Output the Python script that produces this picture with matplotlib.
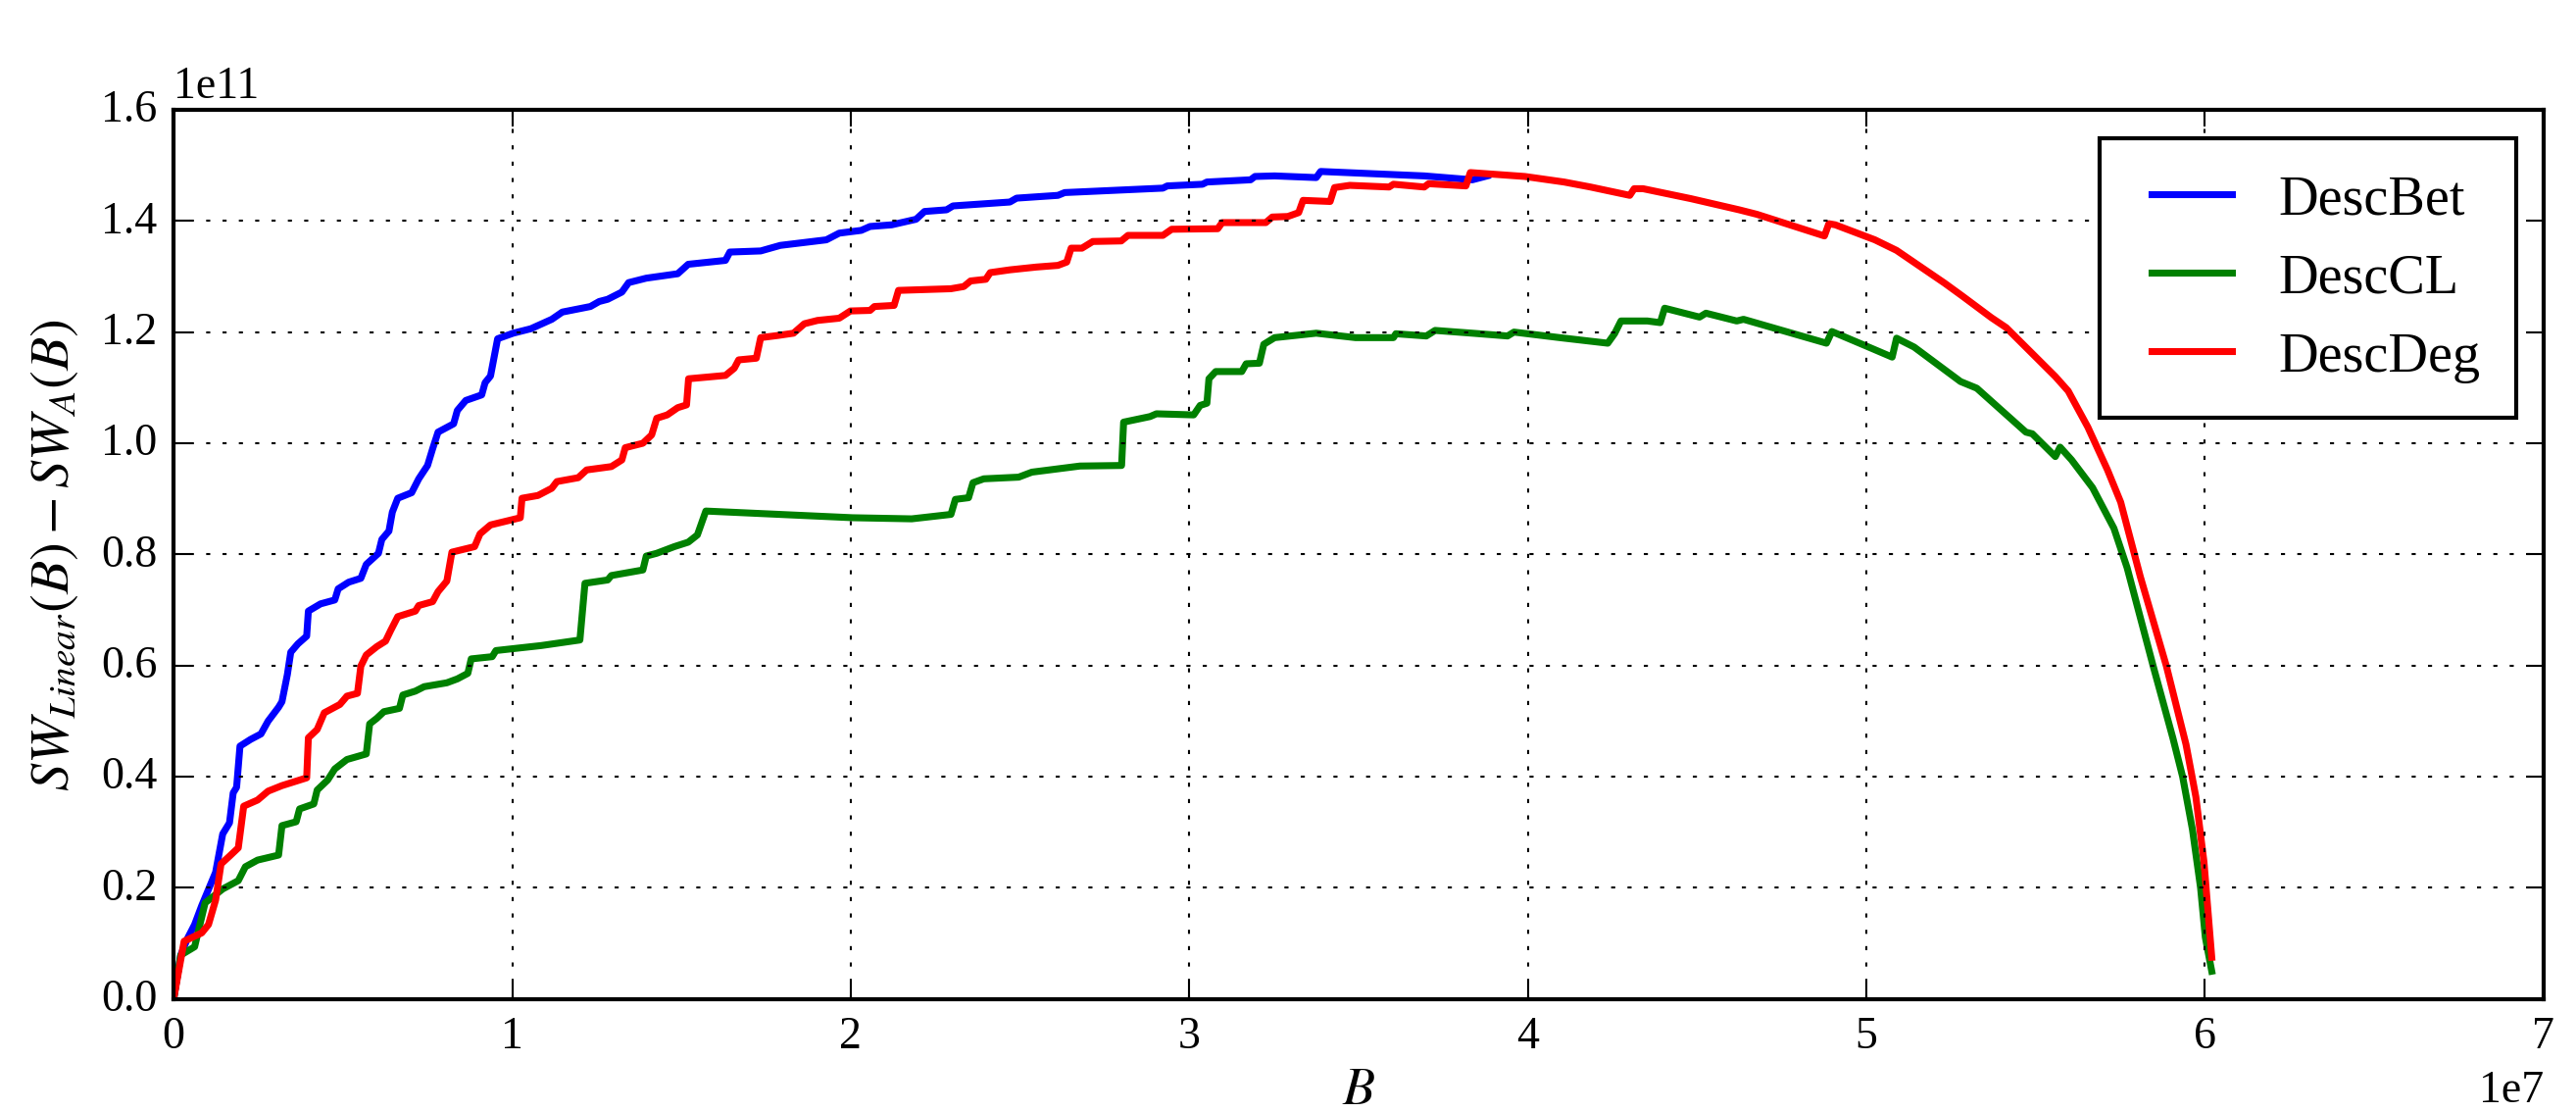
import numpy as np
import matplotlib
matplotlib.use('Agg')
from matplotlib import pyplot as plt

# values: B in units of 1e7, SW difference in units of 1e11
B_UNIT = 1e7
SW_UNIT = 1e11

bet_b = [0, 0.021, 0.041, 0.062, 0.083, 0.124, 0.145, 0.165, 0.176, 0.186, 0.196, 0.227, 0.258,
         0.279, 0.310, 0.320, 0.336, 0.346, 0.367, 0.393, 0.398, 0.434, 0.476, 0.486, 0.517, 0.553,
         0.569, 0.605, 0.615, 0.636, 0.646, 0.662, 0.703, 0.724, 0.750, 0.765, 0.781, 0.827, 0.838,
         0.863, 0.910, 0.920, 0.936, 0.957, 1.003, 1.055, 1.117, 1.148, 1.231, 1.257, 1.282, 1.324,
         1.344, 1.396, 1.489, 1.520, 1.630, 1.643, 1.734, 1.792, 1.928, 1.966, 2.031, 2.057, 2.121,
         2.193, 2.218, 2.283, 2.302, 2.470, 2.490, 2.612, 2.632, 2.922, 2.935, 3.039, 3.052, 3.181,
         3.194, 3.252, 3.375, 3.388, 3.540, 3.694, 3.836, 3.880]
bet_sw = [0, 0.079, 0.109, 0.134, 0.168, 0.228, 0.297, 0.317, 0.371, 0.381, 0.455, 0.467, 0.477,
          0.500, 0.525, 0.535, 0.584, 0.624, 0.639, 0.653, 0.698, 0.711, 0.718, 0.738, 0.750, 0.757,
          0.782, 0.802, 0.827, 0.842, 0.876, 0.901, 0.911, 0.936, 0.960, 0.990, 1.020, 1.035, 1.059,
          1.077, 1.087, 1.109, 1.121, 1.188, 1.198, 1.206, 1.223, 1.236, 1.246, 1.255, 1.259, 1.272,
          1.289, 1.297, 1.305, 1.322, 1.329, 1.344, 1.346, 1.356, 1.366, 1.378, 1.383, 1.390, 1.393,
          1.403, 1.417, 1.420, 1.427, 1.434, 1.441, 1.446, 1.451, 1.459, 1.463, 1.466, 1.470, 1.474,
          1.480, 1.481, 1.478, 1.489, 1.485, 1.481, 1.474, 1.481]

cl_b = [0, 0.021, 0.062, 0.093, 0.145, 0.191, 0.212, 0.248, 0.310, 0.320, 0.362, 0.372, 0.414,
        0.424, 0.455, 0.476, 0.512, 0.569, 0.579, 0.600, 0.621, 0.667, 0.677, 0.714, 0.740, 0.807,
        0.838, 0.869, 0.879, 0.941, 0.952, 1.086, 1.200, 1.215, 1.282, 1.293, 1.386, 1.396, 1.427,
        1.479, 1.520, 1.547, 1.572, 2.005, 2.180, 2.296, 2.309, 2.348, 2.361, 2.393, 2.496, 2.535,
        2.677, 2.800, 2.806, 2.845, 2.884, 2.903, 3.013, 3.032, 3.052, 3.058, 3.078, 3.155, 3.168,
        3.207, 3.220, 3.252, 3.375, 3.491, 3.603, 3.610, 3.700, 3.726, 3.836, 3.940, 3.959, 4.094,
        4.236, 4.256, 4.275, 4.353, 4.391, 4.404, 4.507, 4.526, 4.617, 4.637, 4.882, 4.898, 4.999,
        5.076, 5.089, 5.141, 5.278, 5.326, 5.471, 5.490, 5.558, 5.572, 5.606, 5.668, 5.731, 5.770,
        5.847, 5.905, 5.934, 5.963, 5.987, 6.001, 6.020]
cl_sw = [0, 0.079, 0.094, 0.173, 0.198, 0.213, 0.238, 0.250, 0.259, 0.312, 0.319, 0.342, 0.351,
         0.376, 0.394, 0.414, 0.431, 0.441, 0.495, 0.505, 0.517, 0.523, 0.547, 0.554, 0.562, 0.569,
         0.576, 0.586, 0.612, 0.616, 0.627, 0.636, 0.646, 0.748, 0.754, 0.762, 0.772, 0.797, 0.802,
         0.814, 0.822, 0.835, 0.878, 0.866, 0.864, 0.872, 0.899, 0.902, 0.929, 0.936, 0.939, 0.948,
         0.959, 0.960, 1.038, 1.043, 1.048, 1.053, 1.051, 1.068, 1.072, 1.116, 1.129, 1.129, 1.143,
         1.144, 1.178, 1.190, 1.198, 1.190, 1.190, 1.197, 1.193, 1.203, 1.198, 1.193, 1.200, 1.190,
         1.180, 1.197, 1.220, 1.220, 1.217, 1.243, 1.227, 1.234, 1.220, 1.223, 1.180, 1.201, 1.175,
         1.155, 1.189, 1.173, 1.111, 1.099, 1.020, 1.017, 0.976, 0.993, 0.970, 0.920, 0.847, 0.776,
         0.599, 0.470, 0.400, 0.305, 0.200, 0.111, 0.050]

deg_b = [0, 0.031, 0.083, 0.103, 0.124, 0.140, 0.165, 0.191, 0.207, 0.248, 0.279, 0.320, 0.393,
         0.398, 0.424, 0.445, 0.491, 0.512, 0.543, 0.553, 0.569, 0.600, 0.626, 0.641, 0.662, 0.714,
         0.724, 0.765, 0.781, 0.807, 0.822, 0.889, 0.905, 0.936, 1.024, 1.029, 1.076, 1.117, 1.132,
         1.195, 1.220, 1.293, 1.324, 1.334, 1.386, 1.412, 1.427, 1.458, 1.489, 1.515, 1.521, 1.630,
         1.656, 1.669, 1.721, 1.734, 1.786, 1.831, 1.863, 1.902, 1.966, 1.999, 2.057, 2.070, 2.128,
         2.141, 2.296, 2.334, 2.354, 2.399, 2.412, 2.470, 2.548, 2.612, 2.638, 2.651, 2.683, 2.715,
         2.799, 2.819, 2.922, 2.948, 3.084, 3.097, 3.226, 3.245, 3.291, 3.323, 3.336, 3.416, 3.429,
         3.474, 3.590, 3.603, 3.694, 3.707, 3.817, 3.830, 3.991, 4.107, 4.185, 4.301, 4.314, 4.340,
         4.482, 4.624, 4.676, 4.876, 4.889, 4.908, 5.025, 5.089, 5.231, 5.283, 5.369, 5.413, 5.558,
         5.596, 5.654, 5.712, 5.751, 5.809, 5.886, 5.944, 5.973, 5.997, 6.010, 6.020]
deg_sw = [0, 0.104, 0.119, 0.134, 0.178, 0.243, 0.257, 0.272, 0.347, 0.358, 0.374, 0.384, 0.398,
          0.470, 0.485, 0.515, 0.530, 0.545, 0.550, 0.599, 0.619, 0.634, 0.644, 0.663, 0.688, 0.698,
          0.708, 0.715, 0.733, 0.752, 0.804, 0.814, 0.837, 0.853, 0.866, 0.901, 0.906, 0.919, 0.931,
          0.938, 0.952, 0.958, 0.970, 0.992, 1.000, 1.015, 1.045, 1.051, 1.064, 1.069, 1.116, 1.122,
          1.135, 1.150, 1.153, 1.190, 1.194, 1.198, 1.215, 1.221, 1.225, 1.238, 1.239, 1.246, 1.248,
          1.275, 1.278, 1.282, 1.292, 1.295, 1.307, 1.312, 1.317, 1.320, 1.326, 1.351, 1.351, 1.363,
          1.364, 1.374, 1.374, 1.385, 1.386, 1.397, 1.397, 1.407, 1.408, 1.415, 1.437, 1.435, 1.460,
          1.464, 1.461, 1.466, 1.461, 1.467, 1.463, 1.487, 1.480, 1.470, 1.461, 1.446, 1.458, 1.458,
          1.440, 1.420, 1.412, 1.373, 1.395, 1.393, 1.366, 1.347, 1.288, 1.265, 1.226, 1.208, 1.120,
          1.094, 1.029, 0.952, 0.894, 0.760, 0.599, 0.458, 0.364, 0.247, 0.150, 0.075]

series = [('DescBet', bet_b, bet_sw, 'b'),
          ('DescCL', cl_b, cl_sw, 'g'),
          ('DescDeg', deg_b, deg_sw, 'r')]


def main():
	plt.style.use('classic')
	plt.rcParams['font.family'] = 'serif'
	plt.rcParams['font.serif'] = ['Liberation Serif', 'DejaVu Serif']
	plt.rcParams['mathtext.fontset'] = 'stix'
	plt.rcParams['figure.facecolor'] = 'white'
	plt.rcParams['savefig.facecolor'] = 'white'

	fig = plt.figure(figsize=(8.76, 3.7833), dpi=300)
	ax = fig.add_axes([0.0674, 0.1015, 0.92, 0.799])

	for name, xs, ys, col in series:
		ax.plot(np.array(xs) * B_UNIT, np.array(ys) * SW_UNIT, color=col, lw=1.7, label=name)

	ax.set_xlim(0, 7e7)
	ax.set_ylim(0, 1.6e11)
	ax.grid(True)
	ax.tick_params(labelsize=11)
	ax.xaxis.get_offset_text().set_fontsize(11)
	ax.yaxis.get_offset_text().set_fontsize(11)
	ax.set_xlabel(r'$B$', fontsize=13, labelpad=2)
	ax.set_ylabel(r'$SW_{Linear}(B) - SW_A(B)$', fontsize=13.5)
	ax.legend(loc='upper right', bbox_to_anchor=(0.9885, 0.968), borderaxespad=0,
		fontsize=13.5, handlelength=2.05, handletextpad=0.55, borderpad=0.65)

	fig.savefig('out.png', dpi=300)


main()
